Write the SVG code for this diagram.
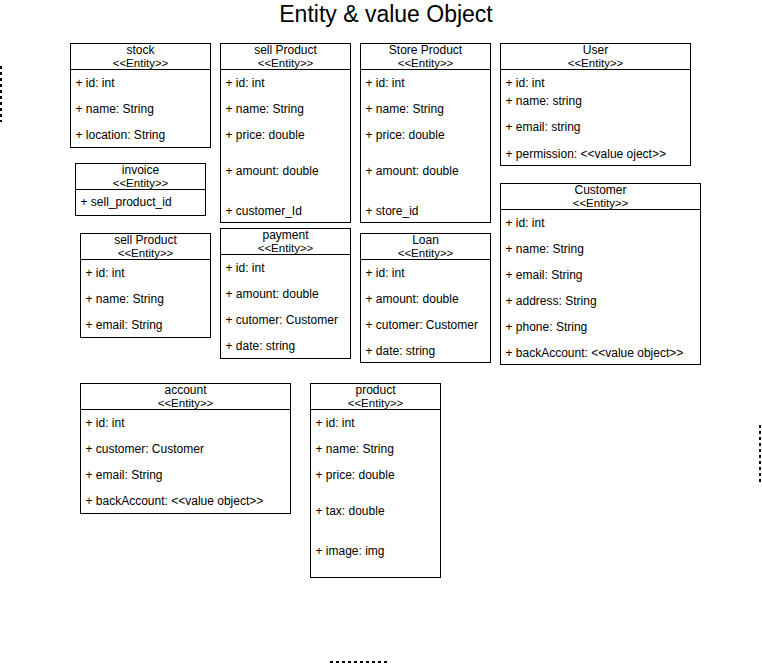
<svg xmlns="http://www.w3.org/2000/svg" width="762" height="665" viewBox="0 0 762 665">
<style>
.box{fill:#fff;stroke:#000;stroke-width:1}
.sep{stroke:#000;stroke-width:1}
text{font-family:"Liberation Sans",Arial,sans-serif;fill:#000}
.nm{font-size:12px;text-anchor:middle}
.st{font-size:11.5px;text-anchor:middle}
.at{font-size:12px}
.title{font-size:23px;text-anchor:middle}
.dash{stroke:#000;stroke-width:2;stroke-dasharray:3 3;fill:none}
</style>
<rect width="762" height="665" fill="#fff"/>
<text class="title" x="386" y="22">Entity &amp; value Object</text>
<g id="edges">
<line class="dash" x1="1" y1="66" x2="1" y2="122"/>
<line class="dash" x1="760" y1="425" x2="760" y2="485"/>
<line class="dash" x1="330" y1="662" x2="388" y2="662" stroke-width="1.5"/>
</g>
<g id="stock">
<rect class="box" x="70.5" y="43.5" width="140" height="104"/>
<line class="sep" x1="70.5" y1="69.5" x2="210.5" y2="69.5"/>
<text class="nm" x="140.5" y="54">stock</text>
<text class="st" x="140.5" y="67">&lt;&lt;Entity&gt;&gt;</text>
<text class="at" x="75.5" y="87">+ id: int</text>
<text class="at" x="75.5" y="113">+ name: String</text>
<text class="at" x="75.5" y="139">+ location: String</text>
</g>
<g id="invoice">
<rect class="box" x="75.5" y="163.5" width="130" height="52"/>
<line class="sep" x1="75.5" y1="189.5" x2="205.5" y2="189.5"/>
<text class="nm" x="140.5" y="174">invoice</text>
<text class="st" x="140.5" y="187">&lt;&lt;Entity&gt;&gt;</text>
<text class="at" x="80.5" y="206">+ sell_product_id</text>
</g>
<g id="sellProduct1">
<rect class="box" x="220.5" y="43.5" width="130" height="179"/>
<line class="sep" x1="220.5" y1="69.5" x2="350.5" y2="69.5"/>
<text class="nm" x="285.5" y="54">sell Product</text>
<text class="st" x="285.5" y="67">&lt;&lt;Entity&gt;&gt;</text>
<text class="at" x="225.5" y="87">+ id: int</text>
<text class="at" x="225.5" y="113">+ name: String</text>
<text class="at" x="225.5" y="139">+ price: double</text>
<text class="at" x="225.5" y="175">+ amount: double</text>
<text class="at" x="225.5" y="215">+ customer_Id</text>
</g>
<g id="storeProduct">
<rect class="box" x="360.5" y="43.5" width="130" height="179"/>
<line class="sep" x1="360.5" y1="69.5" x2="490.5" y2="69.5"/>
<text class="nm" x="425.5" y="54">Store Product</text>
<text class="st" x="425.5" y="67">&lt;&lt;Entity&gt;&gt;</text>
<text class="at" x="365.5" y="87">+ id: int</text>
<text class="at" x="365.5" y="113">+ name: String</text>
<text class="at" x="365.5" y="139">+ price: double</text>
<text class="at" x="365.5" y="175">+ amount: double</text>
<text class="at" x="365.5" y="215">+ store_id</text>
</g>
<g id="user">
<rect class="box" x="500.5" y="43.5" width="190" height="122"/>
<line class="sep" x1="500.5" y1="69.5" x2="690.5" y2="69.5"/>
<text class="nm" x="595.5" y="54">User</text>
<text class="st" x="595.5" y="67">&lt;&lt;Entity&gt;&gt;</text>
<text class="at" x="505.5" y="87">+ id: int</text>
<text class="at" x="505.5" y="105">+ name: string</text>
<text class="at" x="505.5" y="131">+ email: string</text>
<text class="at" x="505.5" y="158">+ permission: &lt;&lt;value oject&gt;&gt;</text>
</g>
<g id="customer">
<rect class="box" x="500.5" y="183.5" width="200" height="181"/>
<line class="sep" x1="500.5" y1="209.5" x2="700.5" y2="209.5"/>
<text class="nm" x="600.5" y="194">Customer</text>
<text class="st" x="600.5" y="207">&lt;&lt;Entity&gt;&gt;</text>
<text class="at" x="505.5" y="227">+ id: int</text>
<text class="at" x="505.5" y="253">+ name: String</text>
<text class="at" x="505.5" y="279">+ email: String</text>
<text class="at" x="505.5" y="305">+ address: String</text>
<text class="at" x="505.5" y="331">+ phone: String</text>
<text class="at" x="505.5" y="357">+ backAccount: &lt;&lt;value object&gt;&gt;</text>
</g>
<g id="sellProduct2">
<rect class="box" x="80.5" y="233.5" width="130" height="104"/>
<line class="sep" x1="80.5" y1="259.5" x2="210.5" y2="259.5"/>
<text class="nm" x="145.5" y="244">sell Product</text>
<text class="st" x="145.5" y="257">&lt;&lt;Entity&gt;&gt;</text>
<text class="at" x="85.5" y="277">+ id: int</text>
<text class="at" x="85.5" y="303">+ name: String</text>
<text class="at" x="85.5" y="329">+ email: String</text>
</g>
<g id="payment">
<rect class="box" x="220.5" y="228.5" width="130" height="130"/>
<line class="sep" x1="220.5" y1="254.5" x2="350.5" y2="254.5"/>
<text class="nm" x="285.5" y="239">payment</text>
<text class="st" x="285.5" y="252">&lt;&lt;Entity&gt;&gt;</text>
<text class="at" x="225.5" y="272">+ id: int</text>
<text class="at" x="225.5" y="298">+ amount: double</text>
<text class="at" x="225.5" y="324">+ cutomer: Customer</text>
<text class="at" x="225.5" y="350">+ date: string</text>
</g>
<g id="loan">
<rect class="box" x="360.5" y="233.5" width="130" height="129"/>
<line class="sep" x1="360.5" y1="259.5" x2="490.5" y2="259.5"/>
<text class="nm" x="425.5" y="244">Loan</text>
<text class="st" x="425.5" y="257">&lt;&lt;Entity&gt;&gt;</text>
<text class="at" x="365.5" y="277">+ id: int</text>
<text class="at" x="365.5" y="303">+ amount: double</text>
<text class="at" x="365.5" y="329">+ cutomer: Customer</text>
<text class="at" x="365.5" y="355">+ date: string</text>
</g>
<g id="account">
<rect class="box" x="80.5" y="383.5" width="210" height="130"/>
<line class="sep" x1="80.5" y1="409.5" x2="290.5" y2="409.5"/>
<text class="nm" x="185.5" y="394">account</text>
<text class="st" x="185.5" y="407">&lt;&lt;Entity&gt;&gt;</text>
<text class="at" x="85.5" y="427">+ id: int</text>
<text class="at" x="85.5" y="453">+ customer: Customer</text>
<text class="at" x="85.5" y="479">+ email: String</text>
<text class="at" x="85.5" y="505">+ backAccount: &lt;&lt;value object&gt;&gt;</text>
</g>
<g id="product">
<rect class="box" x="310.5" y="383.5" width="130" height="194"/>
<line class="sep" x1="310.5" y1="409.5" x2="440.5" y2="409.5"/>
<text class="nm" x="375.5" y="394">product</text>
<text class="st" x="375.5" y="407">&lt;&lt;Entity&gt;&gt;</text>
<text class="at" x="315.5" y="427">+ id: int</text>
<text class="at" x="315.5" y="453">+ name: String</text>
<text class="at" x="315.5" y="479">+ price: double</text>
<text class="at" x="315.5" y="515">+ tax: double</text>
<text class="at" x="315.5" y="555">+ image: img</text>
</g>
</svg>
